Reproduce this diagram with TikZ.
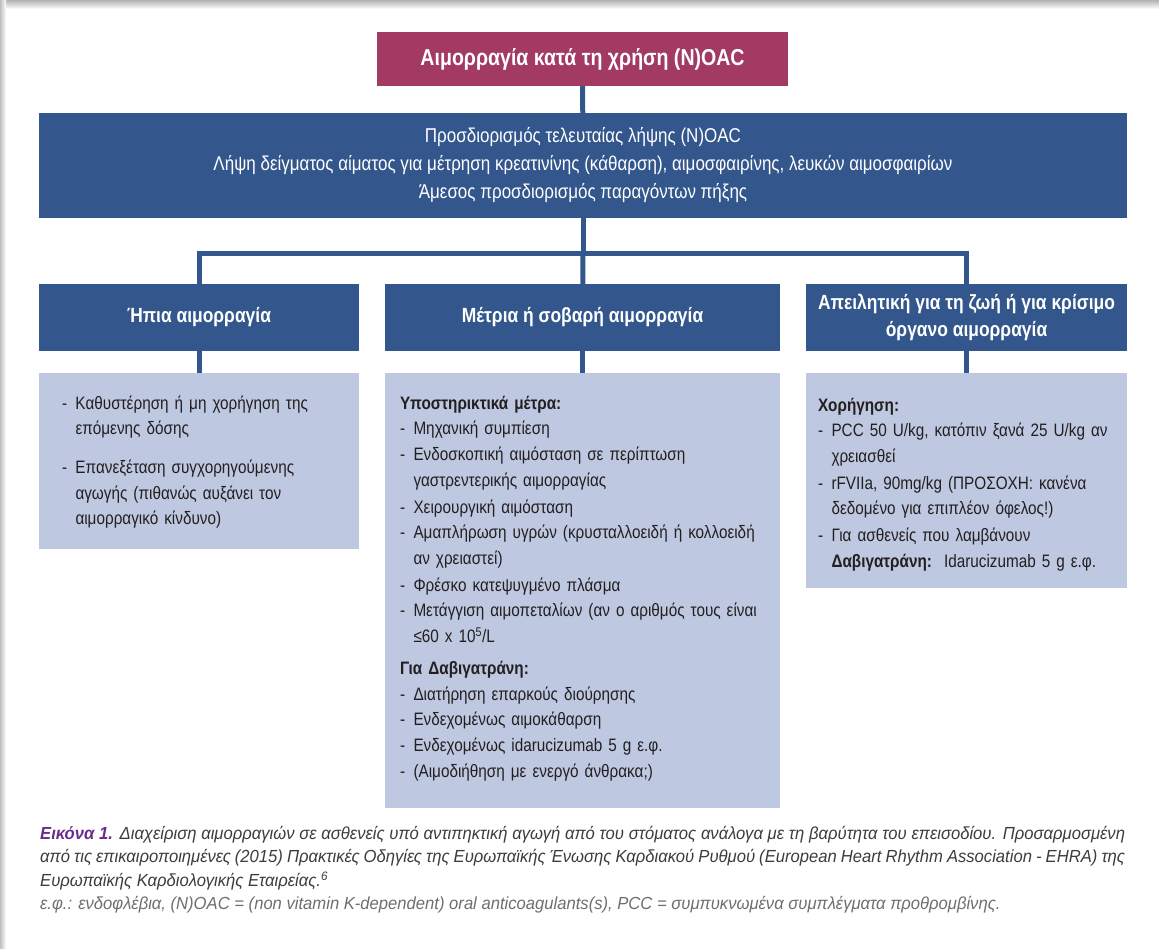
\documentclass[tikz,border=0pt]{standalone}
\usepackage{fontspec}
\setmainfont{Liberation Sans}[FakeStretch=0.85]
\newfontfamily\capfont{Liberation Sans}[FakeStretch=0.95]
\usetikzlibrary{positioning}

\definecolor{bleedred}{HTML}{A33A63}
\definecolor{boxblue}{HTML}{33578C}
\definecolor{paleblue}{HTML}{BEC8E1}
\definecolor{capviolet}{HTML}{6B2D8B}
\definecolor{inkgray}{HTML}{231F20}
\definecolor{capgray}{HTML}{3C3C3C}
\definecolor{notegray}{HTML}{6D6E71}

% one dash item, lines broken by hand
\newcommand{\dashline}[1]{\par\noindent\makebox[13.5pt][l]{-}\begin{tabular}[t]{@{}l@{}}#1\end{tabular}}
\newcommand{\itemgap}[1]{\par\vspace{#1}}

\begin{document}
\begin{tikzpicture}[x=1pt,y=-1pt,
    titlebox/.style={fill=bleedred, text=white, font=\bfseries\fontsize{23}{26}\selectfont,
      minimum width=411, minimum height=54, inner sep=0},
    bluebox/.style={fill=boxblue, text=white, align=center, inner sep=0},
    hdrbox/.style={bluebox, font=\bfseries\fontsize{20.5}{27}\selectfont, minimum height=67},
    listbox/.style={fill=paleblue, text=inkgray, align=left,
      font=\fontsize{18}{25.7}\selectfont, inner ysep=0},
    link/.style={draw=boxblue, line width=5}]
    \useasboundingbox (0,0) rectangle (1159,949);
    % page shadow
    \shade[top color=black!30, bottom color=white] (0,0) rectangle (1159,9);
    \shade[left color=black!25, right color=white] (0,0) rectangle (6,949);

    \node[titlebox] (title) at (582.5,59) {Αιμορραγία κατά τη χρήση (N)OAC};
    \node[bluebox, minimum width=1088, minimum height=105, font=\fontsize{20}{28}\selectfont] (main) at (583,165.5)
      {Προσδιορισμός τελευταίας λήψης (N)OAC\\
       Λήψη δείγματος αίματος για μέτρηση κρεατινίνης (κάθαρση), αιμοσφαιρίνης, λευκών αιμοσφαιρίων\\
       Άμεσος προσδιορισμός παραγόντων πήξης};

    \node[hdrbox, minimum width=320] (hdrL) at (199,317.5) {Ήπια αιμορραγία};
    \node[hdrbox, minimum width=395] (hdrM) at (582.5,317.5) {Μέτρια ή σοβαρή αιμορραγία};
    \node[hdrbox, minimum width=321] (hdrR) at (966.5,317.5) {Απειλητική για τη ζωή ή για κρίσιμο\\όργανο αιμορραγία};

    \node[listbox, inner xsep=23, text width=274, minimum height=176] (txtL) at (199,461)
      {\dashline{Καθυστέρηση ή μη χορήγηση της\\επόμενης δόσης}
       \itemgap{12pt}
       \dashline{Επανεξέταση συγχορηγούμενης\\αγωγής (πιθανώς αυξάνει τον\\αιμορραγικό κίνδυνο)}
       \itemgap{6pt}};
    \node[listbox, inner xsep=15, text width=365, minimum height=435] (txtM) at (582.5,590.5)
      {\textbf{Υποστηρικτικά μέτρα:}
       \dashline{Μηχανική συμπίεση}
       \dashline{Ενδοσκοπική αιμόσταση σε περίπτωση\\γαστρεντερικής αιμορραγίας}
       \dashline{Χειρουργική αιμόσταση}
       \dashline{Αμαπλήρωση υγρών (κρυσταλλοειδή ή κολλοειδή\\αν χρειαστεί)}
       \dashline{Φρέσκο κατεψυγμένο πλάσμα}
       \dashline{Μετάγγιση αιμοπεταλίων (αν ο αριθμός τους είναι\\≤60 x 10\textsuperscript{5}/L}
       \itemgap{10pt}
       \noindent\textbf{Για Δαβιγατράνη:}
       \dashline{Διατήρηση επαρκούς διούρησης}
       \dashline{Ενδεχομένως αιμοκάθαρση}
       \dashline{Ενδεχομένως idarucizumab 5 g ε.φ.}
       \dashline{(Αιμοδιήθηση με ενεργό άνθρακα;)}};
    \node[listbox, inner xsep=12, text width=297, minimum height=215] (txtR) at (966.5,480.5)
      {\textbf{Χορήγηση:}
       \dashline{PCC 50 U/kg, κατόπιν ξανά 25 U/kg αν\\χρειασθεί}
       \dashline{rFVIIa, 90mg/kg (ΠΡΟΣΟΧΗ: κανένα\\δεδομένο για επιπλέον όφελος!)}
       \dashline{Για ασθενείς που λαμβάνουν\\\textbf{Δαβιγατράνη:}\ \ Idarucizumab 5 g ε.φ.}
       \itemgap{-12pt}};

    \coordinate (bus) at (583,254);
    \draw[link] (title) -- (main);
    \draw[link] (main) -- (bus);
    \draw[link] (hdrL) |- (bus) -| (hdrR);
    \draw[link] (bus) -- (hdrM);
    \draw[link] (hdrL) -- (txtL);
    \draw[link] (hdrM) -- (txtM);
    \draw[link] (hdrR) -- (txtR);

    \node[anchor=north west, inner sep=0, text width=1085, align=justify, text=capgray,
      font=\capfont\itshape\fontsize{17.5}{23.5}\selectfont] (caption) at (40,826)
      {{\bfseries\color{capviolet}Εικόνα 1.} Διαχείριση αιμορραγιών σε ασθενείς υπό αντιπηκτική αγωγή από του στόματος ανάλογα με τη βαρύτητα του επεισοδίου. Προσαρμοσμένη\linebreak
       από τις επικαιροποιημένες (2015) Πρακτικές Οδηγίες της Ευρωπαϊκής Ένωσης Καρδιακού Ρυθμού (European Heart Rhythm Association - EHRA) της\linebreak
       Ευρωπαϊκής Καρδιολογικής Εταιρείας.\textsuperscript{6}\par
       {\color{notegray}ε.φ.: ενδοφλέβια, (N)OAC = (non vitamin K-dependent) oral anticoagulants(s), PCC = συμπυκνωμένα συμπλέγματα προθρομβίνης.}};
\end{tikzpicture}
\end{document}
